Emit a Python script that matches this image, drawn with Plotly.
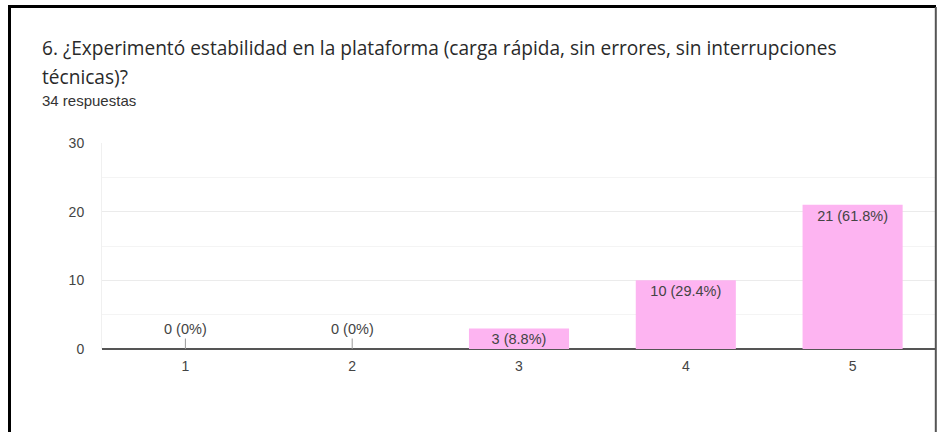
import plotly.graph_objects as go

categories = ["1", "2", "3", "4", "5"]
counts = [0, 0, 3, 10, 21]
percents = [0, 0, 8.8, 29.4, 61.8]
y_ticks = [0, 10, 20, 30]

title_line1 = "6. ¿Experimentó estabilidad en la plataforma (carga rápida, sin errores, sin interrupciones"
title_line2 = "técnicas)?"
subtitle = "34 respuestas"

W, H = 937, 432
L, R, T, B = 102, 1, 143, 83
PW, PH = W - L - R, H - T - B

def px_x(px):
    return (px - L) / PW

def px_y(py):
    return (H - B - py) / PH

labels = [f"{c} ({p:g}%)" for c, p in zip(counts, percents)]
inside_text = [lab if c > 0 else "" for lab, c in zip(labels, counts)]

fig = go.Figure()
fig.add_trace(go.Bar(
    x=categories, y=counts,
    marker=dict(color="#fdb4f1", line=dict(width=0)),
    text=inside_text, textposition="inside", insidetextanchor="end",
    constraintext="none",
    textfont=dict(family="Liberation Sans, Arial", size=14.5, color="#444444"),
    width=0.6, hoverinfo="skip",
))

annotations = []
for i, (c, lab) in enumerate(zip(counts, labels)):
    if c == 0:
        annotations.append(dict(
            x=i, y=c, xref="x", yref="y", text=lab, showarrow=True,
            arrowhead=0, arrowwidth=1, arrowcolor="#9a9a9a", ax=0, ay=-20,
            standoff=0, startstandoff=0,
            font=dict(family="Liberation Sans, Arial", size=14.5, color="#444444"),
        ))

annotations += [
    dict(xref="paper", yref="paper", x=px_x(40), y=px_y(48), xanchor="left", yanchor="middle",
         text=title_line1, showarrow=False,
         font=dict(family="Open Sans", size=19.1, color="#2a2a2a")),
    dict(xref="paper", yref="paper", x=px_x(40), y=px_y(77), xanchor="left", yanchor="middle",
         text=title_line2, showarrow=False,
         font=dict(family="Open Sans", size=19.1, color="#2a2a2a")),
    dict(xref="paper", yref="paper", x=px_x(40), y=px_y(100), xanchor="left", yanchor="middle",
         text=subtitle, showarrow=False,
         font=dict(family="Liberation Sans, Arial", size=15, color="#333333")),
]

shapes = [
    # frame border (screenshot outline)
    dict(type="line", xref="paper", yref="paper", x0=px_x(8), x1=px_x(936), y0=px_y(6.5), y1=px_y(6.5),
         line=dict(color="#000000", width=3)),
    dict(type="line", xref="paper", yref="paper", x0=px_x(9.5), x1=px_x(9.5), y0=px_y(5), y1=px_y(433),
         line=dict(color="#000000", width=3)),
    dict(type="line", xref="paper", yref="paper", x0=px_x(935.8), x1=px_x(935.8), y0=px_y(7), y1=px_y(433),
         line=dict(color="#555555", width=2)),
]

fig.update_layout(
    width=W, height=H,
    margin=dict(l=L, r=R, t=T, b=B, pad=0),
    paper_bgcolor="white", plot_bgcolor="white",
    showlegend=False,
    bargap=0.4,
    annotations=annotations,
    shapes=shapes,
    xaxis=dict(
        type="category", range=[-0.5, 4.5], showgrid=False, zeroline=False,
        showline=False, ticks="", fixedrange=True,
        tickfont=dict(family="Liberation Sans, Arial", size=14, color="#444444"),
        ticklabelstandoff=7,
    ),
    yaxis=dict(
        range=[0, 30], tickvals=y_ticks, showgrid=True, gridcolor="#ebebeb", gridwidth=1,
        minor=dict(dtick=5, showgrid=True, gridcolor="#f4f4f4", gridwidth=1),
        zeroline=True, zerolinecolor="#555555", zerolinewidth=1.5,
        showline=True, linecolor="#f0f0f0", linewidth=1,
        ticks="", ticklabelstandoff=14, fixedrange=True,
        tickfont=dict(family="Liberation Sans, Arial", size=14, color="#444444"),
    ),
)

fig.write_html(
    "out.html",
    config={"displayModeBar": False},
    post_script="document.body.style.margin='0';document.body.style.overflow='hidden';",
)
